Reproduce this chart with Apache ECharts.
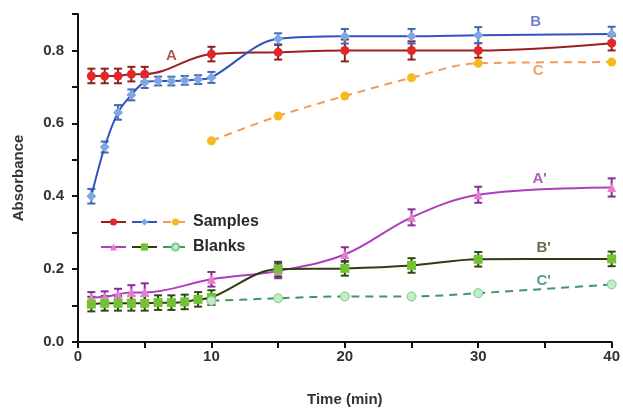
<!DOCTYPE html>
<html>
<head>
<meta charset="utf-8">
<script src="https://cdn.jsdelivr.net/npm/echarts@6/dist/echarts.min.js"></script>
<style>html,body{margin:0;padding:0;background:#fff}#c{width:623px;height:412px}</style>
</head>
<body>
<div id="c"></div>
<script>
// ---- data ----
const timeA = [1, 2, 3, 4, 5, 10, 15, 20, 25, 30, 40];
const valA  = [0.73, 0.73, 0.73, 0.735, 0.735, 0.79, 0.795, 0.80, 0.80, 0.80, 0.82];
const errA  = [0.02, 0.02, 0.02, 0.02, 0.02, 0.02, 0.02, 0.03, 0.025, 0.02, 0.02];

const timeB = [1, 2, 3, 4, 5, 6, 7, 8, 9, 10, 15, 20, 25, 30, 40];
const valB  = [0.40, 0.535, 0.63, 0.678, 0.712, 0.716, 0.716, 0.718, 0.72, 0.726, 0.832, 0.839, 0.839, 0.842, 0.845];
const errB  = [0.02, 0.015, 0.02, 0.015, 0.015, 0.012, 0.012, 0.012, 0.012, 0.015, 0.015, 0.02, 0.02, 0.022, 0.02];

const timeC = [10, 15, 20, 25, 30, 40];
const valC  = [0.552, 0.62, 0.675, 0.725, 0.765, 0.768];

const timeA2 = [1, 2, 3, 4, 5, 10, 15, 20, 25, 30, 40];
const valA2  = [0.122, 0.124, 0.131, 0.136, 0.136, 0.172, 0.195, 0.24, 0.342, 0.404, 0.424];
const errA2  = [0.015, 0.015, 0.015, 0.02, 0.025, 0.02, 0.02, 0.02, 0.022, 0.022, 0.025];

const timeB2 = [1, 2, 3, 4, 5, 6, 7, 8, 9, 10, 15, 20, 25, 30, 40];
const valB2  = [0.104, 0.106, 0.106, 0.106, 0.106, 0.108, 0.108, 0.11, 0.117, 0.122, 0.20, 0.202, 0.21, 0.227, 0.228];
const errB2  = [0.02, 0.02, 0.02, 0.02, 0.02, 0.02, 0.02, 0.02, 0.02, 0.02, 0.02, 0.02, 0.02, 0.02, 0.02];

const timeC2 = [10, 15, 20, 25, 30, 40];
const valC2  = [0.113, 0.12, 0.125, 0.125, 0.134, 0.158];

const xTicks = [0, 10, 20, 30, 40];
const yTicks = [0.0, 0.2, 0.4, 0.6, 0.8];

const curveLabels = ['A', 'B', 'C', "A'", "B'", "C'"];
const labelPos = [[7.0, 0.784], [34.3, 0.879], [34.5, 0.743], [34.6, 0.449], [34.9, 0.258], [34.9, 0.169]];
const labelColors = ['#9e2a2b', '#4a63b8', '#f08a35', '#9a34a8', '#3b4a1e', '#2e8a58'];

// ---- helpers ----
const zip = (t, v) => t.map((x, i) => [x, v[i]]);
const errData = (t, v, e) => t.map((x, i) => [x, v[i] - e[i], v[i] + e[i]]);

function errSeries(t, v, e, color) {
  return {
    type: 'custom',
    z: 3,
    silent: true,
    data: errData(t, v, e),
    renderItem: function (params, api) {
      const x = api.value(0);
      const lo = api.coord([x, api.value(1)]);
      const hi = api.coord([x, api.value(2)]);
      const w = 4;
      const st = { stroke: color, lineWidth: 2 };
      return {
        type: 'group',
        children: [
          { type: 'line', shape: { x1: lo[0], y1: lo[1], x2: hi[0], y2: hi[1] }, style: st },
          { type: 'line', shape: { x1: lo[0] - w, y1: lo[1], x2: lo[0] + w, y2: lo[1] }, style: st },
          { type: 'line', shape: { x1: hi[0] - w, y1: hi[1], x2: hi[0] + w, y2: hi[1] }, style: st }
        ]
      };
    }
  };
}

function lineSeries(name, t, v, lineColor, markColor, symbol, size, dashed, borderColor) {
  return {
    name: name,
    type: 'line',
    z: 4,
    smooth: 0.35,
    data: zip(t, v),
    symbol: symbol,
    symbolSize: size,
    showAllSymbol: true,
    lineStyle: { color: lineColor, width: 2, type: dashed ? [8, 6] : 'solid' },
    itemStyle: { color: markColor, borderColor: borderColor || markColor, borderWidth: borderColor ? 1 : 0 },
    emphasis: { disabled: true }
  };
}

const labelSeries = {
  type: 'scatter',
  z: 6,
  silent: true,
  symbolSize: 0,
  data: labelPos.map((p, i) => ({
    value: p,
    label: {
      show: true, position: 'inside', formatter: curveLabels[i],
      color: labelColors[i], fontSize: 15, fontWeight: 'bold', fontFamily: 'Liberation Sans'
    }
  }))
};

const legendFmt = function (name) {
  if (name === 'C') return 'Samples';
  if (name === "C'") return 'Blanks';
  return '';
};

const chart = echarts.init(document.getElementById('c'), null, { renderer: 'canvas' });
chart.setOption({
  animation: false,
  backgroundColor: '#fff',
  textStyle: { fontFamily: 'Liberation Sans' },
  grid: { left: 78, right: 10, top: 14, bottom: 67 },
  legend: [
    {
      data: ['A', 'B', 'C'], left: 95, top: 209, orient: 'horizontal',
      itemWidth: 25, itemHeight: 9, itemGap: 4, formatter: legendFmt,
      textStyle: { fontSize: 16, fontWeight: 'bold', color: '#2a2a2a', fontFamily: 'Liberation Sans' },
      selectedMode: false
    },
    {
      data: ["A'", "B'", "C'"], left: 95, top: 234, orient: 'horizontal',
      itemWidth: 25, itemHeight: 9, itemGap: 4, formatter: legendFmt,
      textStyle: { fontSize: 16, fontWeight: 'bold', color: '#2a2a2a', fontFamily: 'Liberation Sans' },
      selectedMode: false
    }
  ],
  xAxis: {
    type: 'value', min: 0, max: 40, interval: 5,
    name: 'Time (min)', nameLocation: 'middle', nameGap: 50,
    nameTextStyle: { fontSize: 15, fontWeight: 'bold', color: '#333', fontFamily: 'Liberation Sans' },
    axisLine: { show: true, onZero: false, lineStyle: { color: '#111', width: 2 } },
    axisTick: { show: true, inside: false, length: 6, lineStyle: { color: '#111', width: 2 } },
    axisLabel: {
      fontSize: 15, fontWeight: 'bold', color: '#333', margin: 7,
      formatter: v => (xTicks.indexOf(v) >= 0 ? String(v) : '')
    },
    splitLine: { show: false }
  },
  yAxis: {
    type: 'value', min: 0, max: 0.9, interval: 0.1,
    name: 'Absorbance', nameLocation: 'middle', nameGap: 52,
    nameTextStyle: { fontSize: 15, fontWeight: 'bold', color: '#333', fontFamily: 'Liberation Sans' },
    axisLine: { show: true, onZero: false, lineStyle: { color: '#111', width: 2 } },
    axisTick: { show: true, inside: false, length: 6, lineStyle: { color: '#111', width: 2 } },
    axisLabel: {
      fontSize: 15, fontWeight: 'bold', color: '#333', margin: 14,
      formatter: v => {
        const r = Math.round(v * 10) / 10;
        return yTicks.some(t => Math.abs(t - r) < 1e-6) ? r.toFixed(1) : '';
      }
    },
    splitLine: { show: false }
  },
  series: [
    errSeries(timeA, valA, errA, '#8e1f1f'),
    errSeries(timeB, valB, errB, '#4466b8'),
    errSeries(timeA2, valA2, errA2, '#8a2c9a'),
    errSeries(timeB2, valB2, errB2, '#2c4a12'),
    lineSeries('A', timeA, valA, '#9b1f1f', '#e3262a', 'circle', 9, false),
    lineSeries('B', timeB, valB, '#3152c0', '#7ea6e0', 'diamond', 10, false),
    lineSeries('C', timeC, valC, '#f39a55', '#f7b824', 'circle', 9, true),
    lineSeries("A'", timeA2, valA2, '#b03cc0', '#e87cc8', 'triangle', 9, false),
    lineSeries("B'", timeB2, valB2, '#343a12', '#72c234', 'rect', 9, false),
    lineSeries("C'", timeC2, valC2, '#3a9a62', '#c4ecc4', 'circle', 9, true, '#7cc892'),
    labelSeries
  ]
});
</script>
</body>
</html>
